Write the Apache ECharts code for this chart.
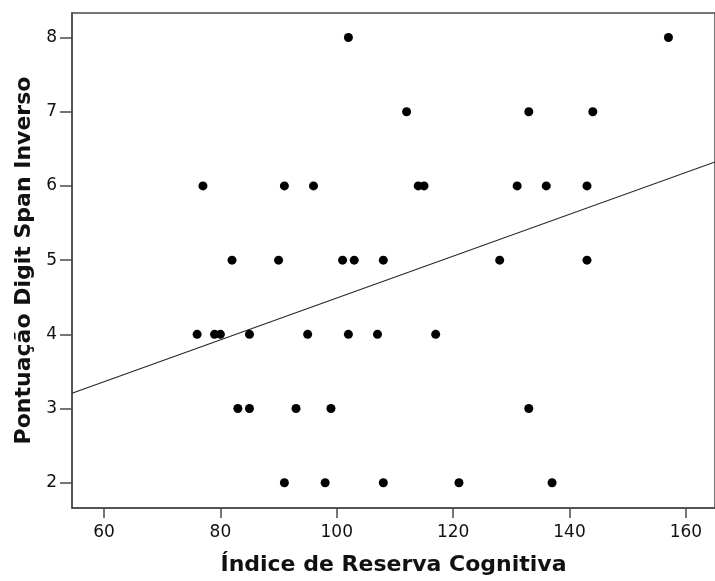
<!DOCTYPE html>
<html>
<head>
<meta charset="utf-8">
<style>
  html, body { margin: 0; padding: 0; background: #fff; }
  #chart { width: 715px; height: 581px; }
</style>
<script src="https://cdn.jsdelivr.net/npm/echarts@6/dist/echarts.min.js"></script>
</head>
<body>
<div id="chart"></div>
<script>
// Cognitive reserve index (x) against backward digit span score (y), one entry per participant
const reserveIndex = [
  102, 157,
  112, 133, 144,
  77, 91, 96, 114, 115, 131, 136, 143,
  82, 90, 101, 103, 108, 128, 143,
  76, 79, 80, 85, 95, 102, 107, 117,
  83, 85, 93, 99, 133,
  91, 98, 108, 121, 137
];
const digitSpan = [
  8, 8,
  7, 7, 7,
  6, 6, 6, 6, 6, 6, 6, 6,
  5, 5, 5, 5, 5, 5, 5,
  4, 4, 4, 4, 4, 4, 4, 4,
  3, 3, 3, 3, 3,
  2, 2, 2, 2, 2
];

// Linear fit line: y = fitIntercept + fitSlope * x
const fitIntercept = 1.669;
const fitSlope = 0.0282;

// Axis ranges and tick values
const xRange = [54.5, 165];
const yRange = [1.66, 8.33];
const xTicks = [60, 80, 100, 120, 140, 160];
const yTicks = [2, 3, 4, 5, 6, 7, 8];

const points = reserveIndex.map((x, i) => [x, digitSpan[i]]);
const fitLine = xRange.map(x => [x, fitIntercept + fitSlope * x]);

const axisColor = '#4a4a4a';
const fontFamily = '"DejaVu Sans", sans-serif';

const chart = echarts.init(document.getElementById('chart'), null, { renderer: 'canvas' });
chart.setOption({
  backgroundColor: '#fff',
  animation: false,
  grid: {
    left: 72, top: 13, right: -2.3, bottom: 72,
    show: true, borderColor: axisColor, borderWidth: 1.5, backgroundColor: 'transparent'
  },
  xAxis: {
    type: 'value',
    min: xRange[0], max: xRange[1],
    name: 'Índice de Reserva Cognitiva',
    nameLocation: 'middle',
    nameGap: 46,
    nameTextStyle: { fontFamily, fontWeight: 'bold', fontSize: 22, color: '#111' },
    axisLine: { show: true, onZero: false, lineStyle: { color: axisColor, width: 1.5 } },
    axisTick: { show: true, length: 10, customValues: xTicks, lineStyle: { color: axisColor, width: 1.5 } },
    axisLabel: { customValues: xTicks, margin: 16, fontFamily, fontSize: 17, color: '#111' },
    splitLine: { show: false }
  },
  yAxis: {
    type: 'value',
    min: yRange[0], max: yRange[1],
    name: 'Pontuação Digit Span Inverso',
    nameLocation: 'middle',
    nameGap: 34,
    nameTextStyle: { fontFamily, fontWeight: 'bold', fontSize: 22, color: '#111' },
    axisLine: { show: true, onZero: false, lineStyle: { color: axisColor, width: 1.5 } },
    axisTick: { show: true, length: 12, customValues: yTicks, lineStyle: { color: axisColor, width: 1.5 } },
    axisLabel: { customValues: yTicks, margin: 15, fontFamily, fontSize: 17, color: '#111' },
    splitLine: { show: false }
  },
  series: [
    {
      type: 'line',
      data: fitLine,
      symbol: 'none',
      lineStyle: { color: '#222', width: 1.1 },
      silent: true,
      z: 2
    },
    {
      type: 'scatter',
      data: points,
      symbol: 'circle',
      symbolSize: 9,
      itemStyle: { color: '#000', opacity: 1 },
      z: 3
    }
  ]
});
</script>
</body>
</html>
